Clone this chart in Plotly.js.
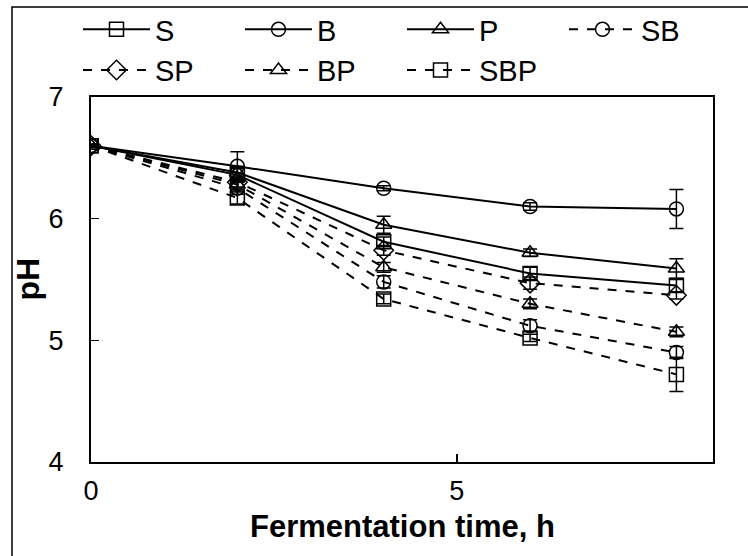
<!DOCTYPE html>
<html>
<head>
<meta charset="utf-8">
<script src="https://cdn.plot.ly/plotly-3.0.1.min.js"></script>
<style>html,body{margin:0;padding:0;background:#fff;}#chart{width:748px;height:556px;}</style>
</head>
<body>
<div id="chart"></div>
<script>
// Fermentation time (h)
const time = [0, 2, 4, 6, 8];
const seriesNames = ["S", "B", "P", "SB", "SP", "BP", "SBP"];
// pH values
const pH_S   = [6.60, 6.36, 5.81, 5.55, 5.45];
const pH_B   = [6.60, 6.43, 6.25, 6.10, 6.08];
const pH_P   = [6.60, 6.38, 5.95, 5.72, 5.59];
const pH_SB  = [6.60, 6.25, 5.48, 5.12, 4.90];
const pH_SP  = [6.60, 6.30, 5.74, 5.47, 5.37];
const pH_BP  = [6.60, 6.28, 5.60, 5.30, 5.07];
const pH_SBP = [6.60, 6.17, 5.34, 5.02, 4.72];
// standard deviations
const sd_S   = [0.01, 0.05, 0.04, 0.05, 0.05];
const sd_B   = [0.01, 0.12, 0.02, 0.03, 0.16];
const sd_P   = [0.01, 0.05, 0.07, 0.03, 0.08];
const sd_SB  = [0.01, 0.05, 0.05, 0.05, 0.05];
const sd_SP  = [0.01, 0.04, 0.04, 0.05, 0.03];
const sd_BP  = [0.01, 0.04, 0.04, 0.04, 0.04];
const sd_SBP = [0.01, 0.05, 0.04, 0.03, 0.14];
const xTitle = "Fermentation time, h";
const yTitle = "pH";

const values = [pH_S, pH_B, pH_P, pH_SB, pH_SP, pH_BP, pH_SBP];
const sds = [sd_S, sd_B, sd_P, sd_SB, sd_SP, sd_BP, sd_SBP];
const symbols = ["square-open", "circle-open", "triangle-up-open", "circle-open", "diamond-open", "triangle-up-open", "square-open"];
const dashes = ["solid", "solid", "solid", "dash", "dash", "dash", "dash"];
const sizes = [14, 14, 14, 14, 15, 14, 14];

const traces = seriesNames.map((n, i) => ({
  x: time, y: values[i], name: n, type: "scatter", mode: "lines+markers",
  line: {color: "#000", width: 2, dash: dashes[i]},
  marker: {symbol: symbols[i], size: sizes[i], color: "#000", line: {color: "#000", width: 1.5}},
  error_y: {type: "data", array: sds[i], visible: true, color: "#000", thickness: 1.5, width: 7}
}));

const layout = {
  width: 748, height: 556,
  margin: {l: 91, r: 35, t: 97, b: 94, autoexpand: false},
  paper_bgcolor: "#fff", plot_bgcolor: "#fff",
  font: {family: "Liberation Sans, Arial, sans-serif", color: "#000", size: 28},
  showlegend: true,
  legend: {orientation: "h", xref: "paper", yref: "paper",
    x: (78 - 91) / 622, xanchor: "left", y: (462 - 4) / 365, yanchor: "top",
    entrywidth: 80, entrywidthmode: "pixels", itemwidth: 67,
    font: {size: 29, family: "Liberation Sans, Arial, sans-serif"}, bgcolor: "rgba(0,0,0,0)", tracegroupgap: 0},
  xaxis: {
    range: [0, 8.5], tickvals: [0, 5], ticktext: ["0", "5"],
    ticks: "inside", ticklen: 8, tickwidth: 1.5, tickcolor: "#000",
    showline: true, linecolor: "#000", linewidth: 2, mirror: true,
    showgrid: false, zeroline: false, ticklabelstandoff: 4,
    tickfont: {size: 27}
  },
  yaxis: {
    range: [4, 7], tickvals: [4, 5, 6, 7],
    ticks: "inside", ticklen: 8, tickwidth: 1.5, tickcolor: "#000",
    showline: true, linecolor: "#000", linewidth: 2, mirror: true,
    showgrid: false, zeroline: false, ticklabelstandoff: 20,
    tickfont: {size: 27}
  },
  annotations: [
    {text: "<b>" + xTitle + "</b>", xref: "paper", yref: "paper", x: 0.5, y: (462 - 526) / 365,
      xanchor: "center", yanchor: "middle", showarrow: false, font: {size: 31}},
    {text: "<b>" + yTitle + "</b>", xref: "paper", yref: "paper", x: (27 - 91) / 622, y: 0.5,
      xanchor: "center", yanchor: "middle", showarrow: false, textangle: -90, font: {size: 32}}
  ],
  shapes: [{type: "rect", xref: "paper", yref: "paper",
    x0: (12 - 91) / 622, x1: 2, y0: -1, y1: (462 - 7) / 365,
    line: {color: "#000", width: 1.5}, fillcolor: "rgba(0,0,0,0)", layer: "below"}]
};

Plotly.newPlot("chart", traces, layout, {displayModeBar: false, staticPlot: true});
</script>
</body>
</html>
